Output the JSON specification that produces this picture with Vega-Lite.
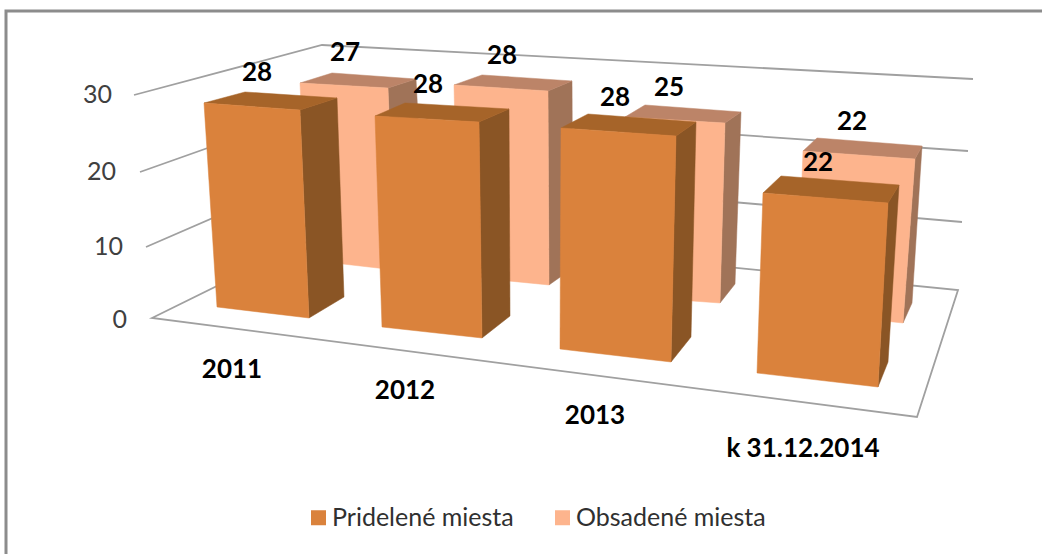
{
"$schema":"https://vega.github.io/schema/vega-lite/v6.json",
"width":1042,"height":554,"autosize":"none","padding":0,"background":"white",
"config":{"view":{"stroke":null},"font":"Lato"},
"data":{"values":[
{"year":"2011","series":"Pridelené miesta","value":28},
{"year":"2012","series":"Pridelené miesta","value":28},
{"year":"2013","series":"Pridelené miesta","value":28},
{"year":"k 31.12.2014","series":"Pridelené miesta","value":22},
{"year":"2011","series":"Obsadené miesta","value":27},
{"year":"2012","series":"Obsadené miesta","value":28},
{"year":"2013","series":"Obsadené miesta","value":25},
{"year":"k 31.12.2014","series":"Obsadené miesta","value":22}
]},
"encoding":{
"x":{"field":"year","type":"nominal","axis":null,"scale":{"domain":["2011","2012","2013","k 31.12.2014"],"range":[200,1000],"paddingInner":0,"paddingOuter":0}},
"y":{"field":"value","type":"quantitative","scale":{"domain":[-31.34,42.23],"nice":false,"zero":false},"axis":null}
},
"resolve":{"scale":{"shape":"independent"}},
"layer":[
{"data":{"values":[{"level":0}]},"mark":{"type":"point","size":4,"filled":false,"stroke":"#8c8c8c","strokeWidth":3,"opacity":1},"encoding":{"x":{"datum":"2011"},"y":{"field":"level","type":"quantitative"},"shape":{"field":"level","type":"nominal","legend":null,"scale":{"domain":[0],"range":["M-294 236 L-294 -307 L742 -307"]}}}},
{"data":{"values":[{"level":0},{"level":10},{"level":20},{"level":30}]},"mark":{"type":"point","size":4,"filled":false,"stroke":"#a0a0a0","strokeWidth":1.8,"opacity":1},"encoding":{"x":{"datum":"2011"},"y":{"field":"level","type":"quantitative"},"shape":{"field":"level","type":"nominal","legend":null,"scale":{"domain":[0,10,20,30],"range":["M-148 0 L35 -90 L658 -28 L617 99 Z","M-154 4.3 L30 -75.7 L662 -20.7","M-160 4.6 L26 -61.4 L668 -16.4","M-166 2.9 L22 -47.1 L673 -13.1"]}}}},
{"data":{"values":[{"level":30}]},"mark":{"type":"text","align":"right","dx":-188,"dy":3,"fontSize":25,"color":"#404040"},"encoding":{"x":{"datum":"2011"},"y":{"field":"level","type":"quantitative"},"text":{"field":"level"}}},
{"data":{"values":[{"level":20}]},"mark":{"type":"text","align":"right","dx":-184,"dy":4.6,"fontSize":25,"color":"#404040"},"encoding":{"x":{"datum":"2011"},"y":{"field":"level","type":"quantitative"},"text":{"field":"level"}}},
{"data":{"values":[{"level":10}]},"mark":{"type":"text","align":"right","dx":-177,"dy":4.3,"fontSize":25,"color":"#404040"},"encoding":{"x":{"datum":"2011"},"y":{"field":"level","type":"quantitative"},"text":{"field":"level"}}},
{"data":{"values":[{"level":0}]},"mark":{"type":"text","align":"right","dx":-173,"dy":2,"fontSize":25,"color":"#404040"},"encoding":{"x":{"datum":"2011"},"y":{"field":"level","type":"quantitative"},"text":{"field":"level"}}},

{"transform":[{"filter":"datum.series[0]=='O'"}],"mark":{"type":"point","size":4,"filled":true,"fill":"#a07358","stroke":"#a07358","strokeWidth":0.5,"opacity":1},"encoding":{"shape":{"field":"year","type":"nominal","legend":null,"scale":{"domain":["2011","2012","2013","k 31.12.2014"],"range":["M88 -26.7 L116 -35.7 L125 135.3 L95 155.3 Z","M48 -16.2 L72 -26.2 L73 160.8 L49 177.8 Z","M25 -6.75 L41 -17.75 L35 154.25 L20 173.25 Z","M15 6.66 L22 -6.34 L12 150.66 L3 170.66 Z"]}}}},
{"transform":[{"filter":"datum.series[0]=='O'"}],"mark":{"type":"point","size":4,"filled":true,"fill":"#bc8468","stroke":"#bc8468","strokeWidth":0.5,"opacity":1},"encoding":{"shape":{"field":"year","type":"nominal","legend":null,"scale":{"domain":["2011","2012","2013","k 31.12.2014"],"range":["M0 -31.7 L32 -41.7 L116 -35.7 L88 -26.7 Z","M-46 -22.2 L-18 -32.2 L72 -26.2 L48 -16.2 Z","M-75 -12.75 L-55 -24.75 L41 -17.75 L25 -6.75 Z","M-97 -1.34 L-83 -14.34 L22 -6.34 L15 6.66 Z"]}}}},
{"transform":[{"filter":"datum.series[0]=='O'"}],"mark":{"type":"point","size":4,"filled":true,"fill":"#fdb48d","stroke":"#fdb48d","strokeWidth":0.5,"opacity":1},"encoding":{"shape":{"field":"year","type":"nominal","legend":null,"scale":{"domain":["2011","2012","2013","k 31.12.2014"],"range":["M0 -31.7 L88 -26.7 L95 155.3 L8 145.3 Z","M-46 -22.2 L48 -16.2 L49 177.8 L-42 168.8 Z","M-75 -12.75 L25 -6.75 L20 173.25 L-78 166.25 Z","M-97 -1.34 L15 6.66 L3 170.66 L-103 159.66 Z"]}}}},

{"transform":[{"filter":"datum.series[0]=='O'&&datum.year=='2011'"}],"mark":{"type":"bar","width":80,"xOffset":48,"yOffset":-26.69},"encoding":{"y2":{"datum":7.7},"color":{"field":"series","type":"nominal"}}},
{"transform":[{"filter":"datum.series[0]=='O'&&datum.year=='2012'"}],"mark":{"type":"bar","width":90,"xOffset":3,"yOffset":-16.16},"encoding":{"y2":{"datum":5.58},"color":{"field":"series","type":"nominal"}}},
{"transform":[{"filter":"datum.series[0]=='O'&&datum.year=='2013'"}],"mark":{"type":"bar","width":95,"xOffset":-27.5,"yOffset":-6.75},"encoding":{"y2":{"datum":2.92},"color":{"field":"series","type":"nominal"}}},
{"transform":[{"filter":"datum.series[0]=='O'&&datum.year[0]=='k'"}],"mark":{"type":"bar","width":100,"xOffset":-47,"yOffset":6.66},"encoding":{"y2":{"datum":0.8},"color":{"field":"series","type":"nominal"}}},

{"transform":[{"filter":"datum.series[0]=='P'"}],"mark":{"type":"point","size":4,"filled":true,"fill":"#8a5525","stroke":"#8a5525","strokeWidth":0.5,"opacity":1},"encoding":{"shape":{"field":"year","type":"nominal","legend":null,"scale":{"domain":["2011","2012","2013","k 31.12.2014"],"range":["M0 2.84 L37 -9.16 L44 189.84 L9 210.84 Z","M-21 14.84 L9 1.84 L10 208.84 L-18 230.84 Z","M-24 28.84 L-4 14.84 L-9 229.84 L-29 254.84 Z","M-12 50.66 L-1 32.66 L-12 209.66 L-22 234.66 Z"]}}}},
{"transform":[{"filter":"datum.series[0]=='P'"}],"mark":{"type":"point","size":4,"filled":true,"fill":"#a66429","stroke":"#a66429","strokeWidth":0.5,"opacity":1},"encoding":{"shape":{"field":"year","type":"nominal","legend":null,"scale":{"domain":["2011","2012","2013","k 31.12.2014"],"range":["M-96 -4.16 L-55 -15.16 L37 -9.16 L0 2.84 Z","M-125 8.84 L-95 -4.16 L9 1.84 L-21 14.84 Z","M-139 20.84 L-112 6.84 L-4 14.84 L-24 28.84 Z","M-137 40.66 L-119 23.66 L-1 32.66 L-12 50.66 Z"]}}}},
{"transform":[{"filter":"datum.series[0]=='P'"}],"mark":{"type":"point","size":4,"filled":true,"fill":"#da823c","stroke":"#da823c","strokeWidth":0.5,"opacity":1},"encoding":{"shape":{"field":"year","type":"nominal","legend":null,"scale":{"domain":["2011","2012","2013","k 31.12.2014"],"range":["M-96 -4.16 L0 2.84 L9 210.84 L-83 199.84 Z","M-125 8.84 L-21 14.84 L-18 230.84 L-118 219.84 Z","M-139 20.84 L-24 28.84 L-29 254.84 L-140 241.84 Z","M-137 40.66 L-12 50.66 L-22 234.66 L-143 220.66 Z"]}}}},

{"transform":[{"filter":"datum.series[0]=='P'&&datum.year=='2011'"}],"mark":{"type":"bar","width":83,"xOffset":-41.5,"yOffset":2.84},"encoding":{"y2":{"datum":1.46},"color":{"field":"series","type":"nominal"}}},
{"transform":[{"filter":"datum.series[0]=='P'&&datum.year=='2012'"}],"mark":{"type":"bar","width":97,"xOffset":-69.5,"yOffset":14.84},"encoding":{"y2":{"datum":-1.2},"color":{"field":"series","type":"nominal"}}},
{"transform":[{"filter":"datum.series[0]=='P'&&datum.year=='2013'"}],"mark":{"type":"bar","width":110,"xOffset":-84,"yOffset":28.84},"encoding":{"y2":{"datum":-4.12},"color":{"field":"series","type":"nominal","scale":{"domain":["Pridelené miesta","Obsadené miesta"],"range":["#da823c","#fdb48d"]},"legend":{"orient":"none","legendX":306,"legendY":505,"direction":"horizontal","columns":2,"title":null,"symbolType":"square","symbolSize":225,"symbolStrokeWidth":0,"labelFontSize":25,"labelFont":"Lato","labelColor":"#303030","labelOffset":1,"labelLimit":400,"columnPadding":36}}}},
{"transform":[{"filter":"datum.series[0]=='P'&&datum.year[0]=='k'"}],"mark":{"type":"bar","width":115,"xOffset":-79.5,"yOffset":50.66},"encoding":{"y2":{"datum":-7.3},"color":{"field":"series","type":"nominal"}}},

{"transform":[{"filter":"datum.series[0]=='P'&&datum.year=='2011'"}],"mark":{"type":"text","dx":-43,"dy":-34.16,"fontSize":26,"fontWeight":"bold","color":"#000"},"encoding":{"text":{"field":"value"}}},
{"transform":[{"filter":"datum.series[0]=='P'&&datum.year=='2012'"}],"mark":{"type":"text","dx":-72,"dy":-22.16,"fontSize":26,"fontWeight":"bold","color":"#000"},"encoding":{"text":{"field":"value"}}},
{"transform":[{"filter":"datum.series[0]=='P'&&datum.year=='2013'"}],"mark":{"type":"text","dx":-85,"dy":-9.16,"fontSize":26,"fontWeight":"bold","color":"#000"},"encoding":{"text":{"field":"value"}}},
{"transform":[{"filter":"datum.series[0]=='P'&&datum.year[0]=='k'"}],"mark":{"type":"text","dx":-82,"dy":10.66,"fontSize":26,"fontWeight":"bold","color":"#000"},"encoding":{"text":{"field":"value"}}},
{"transform":[{"filter":"datum.series[0]=='O'&&datum.year=='2011'"}],"mark":{"type":"text","dx":45,"dy":-61.69,"fontSize":26,"fontWeight":"bold","color":"#000"},"encoding":{"text":{"field":"value"}}},
{"transform":[{"filter":"datum.series[0]=='O'&&datum.year=='2012'"}],"mark":{"type":"text","dx":2,"dy":-51.16,"fontSize":26,"fontWeight":"bold","color":"#000"},"encoding":{"text":{"field":"value"}}},
{"transform":[{"filter":"datum.series[0]=='O'&&datum.year=='2013'"}],"mark":{"type":"text","dx":-31,"dy":-41.75,"fontSize":26,"fontWeight":"bold","color":"#000"},"encoding":{"text":{"field":"value"}}},
{"transform":[{"filter":"datum.series[0]=='O'&&datum.year[0]=='k'"}],"mark":{"type":"text","dx":-48,"dy":-30.34,"fontSize":26,"fontWeight":"bold","color":"#000"},"encoding":{"text":{"field":"value"}}},

{"transform":[{"filter":"datum.series[0]=='P'&&datum.year=='2011'"}],"mark":{"type":"text","dx":-68,"dy":52,"fontSize":26,"fontWeight":"bold","color":"#000"},"encoding":{"y":{"datum":0},"text":{"field":"year"}}},
{"transform":[{"filter":"datum.series[0]=='P'&&datum.year=='2012'"}],"mark":{"type":"text","dx":-95,"dy":73,"fontSize":26,"fontWeight":"bold","color":"#000"},"encoding":{"y":{"datum":0},"text":{"field":"year"}}},
{"transform":[{"filter":"datum.series[0]=='P'&&datum.year=='2013'"}],"mark":{"type":"text","dx":-105,"dy":98,"fontSize":26,"fontWeight":"bold","color":"#000"},"encoding":{"y":{"datum":0},"text":{"field":"year"}}},
{"transform":[{"filter":"datum.series[0]=='P'&&datum.year[0]=='k'"}],"mark":{"type":"text","dx":-97,"dy":131,"fontSize":26,"fontWeight":"bold","color":"#000"},"encoding":{"y":{"datum":0},"text":{"field":"year"}}}
]
}
